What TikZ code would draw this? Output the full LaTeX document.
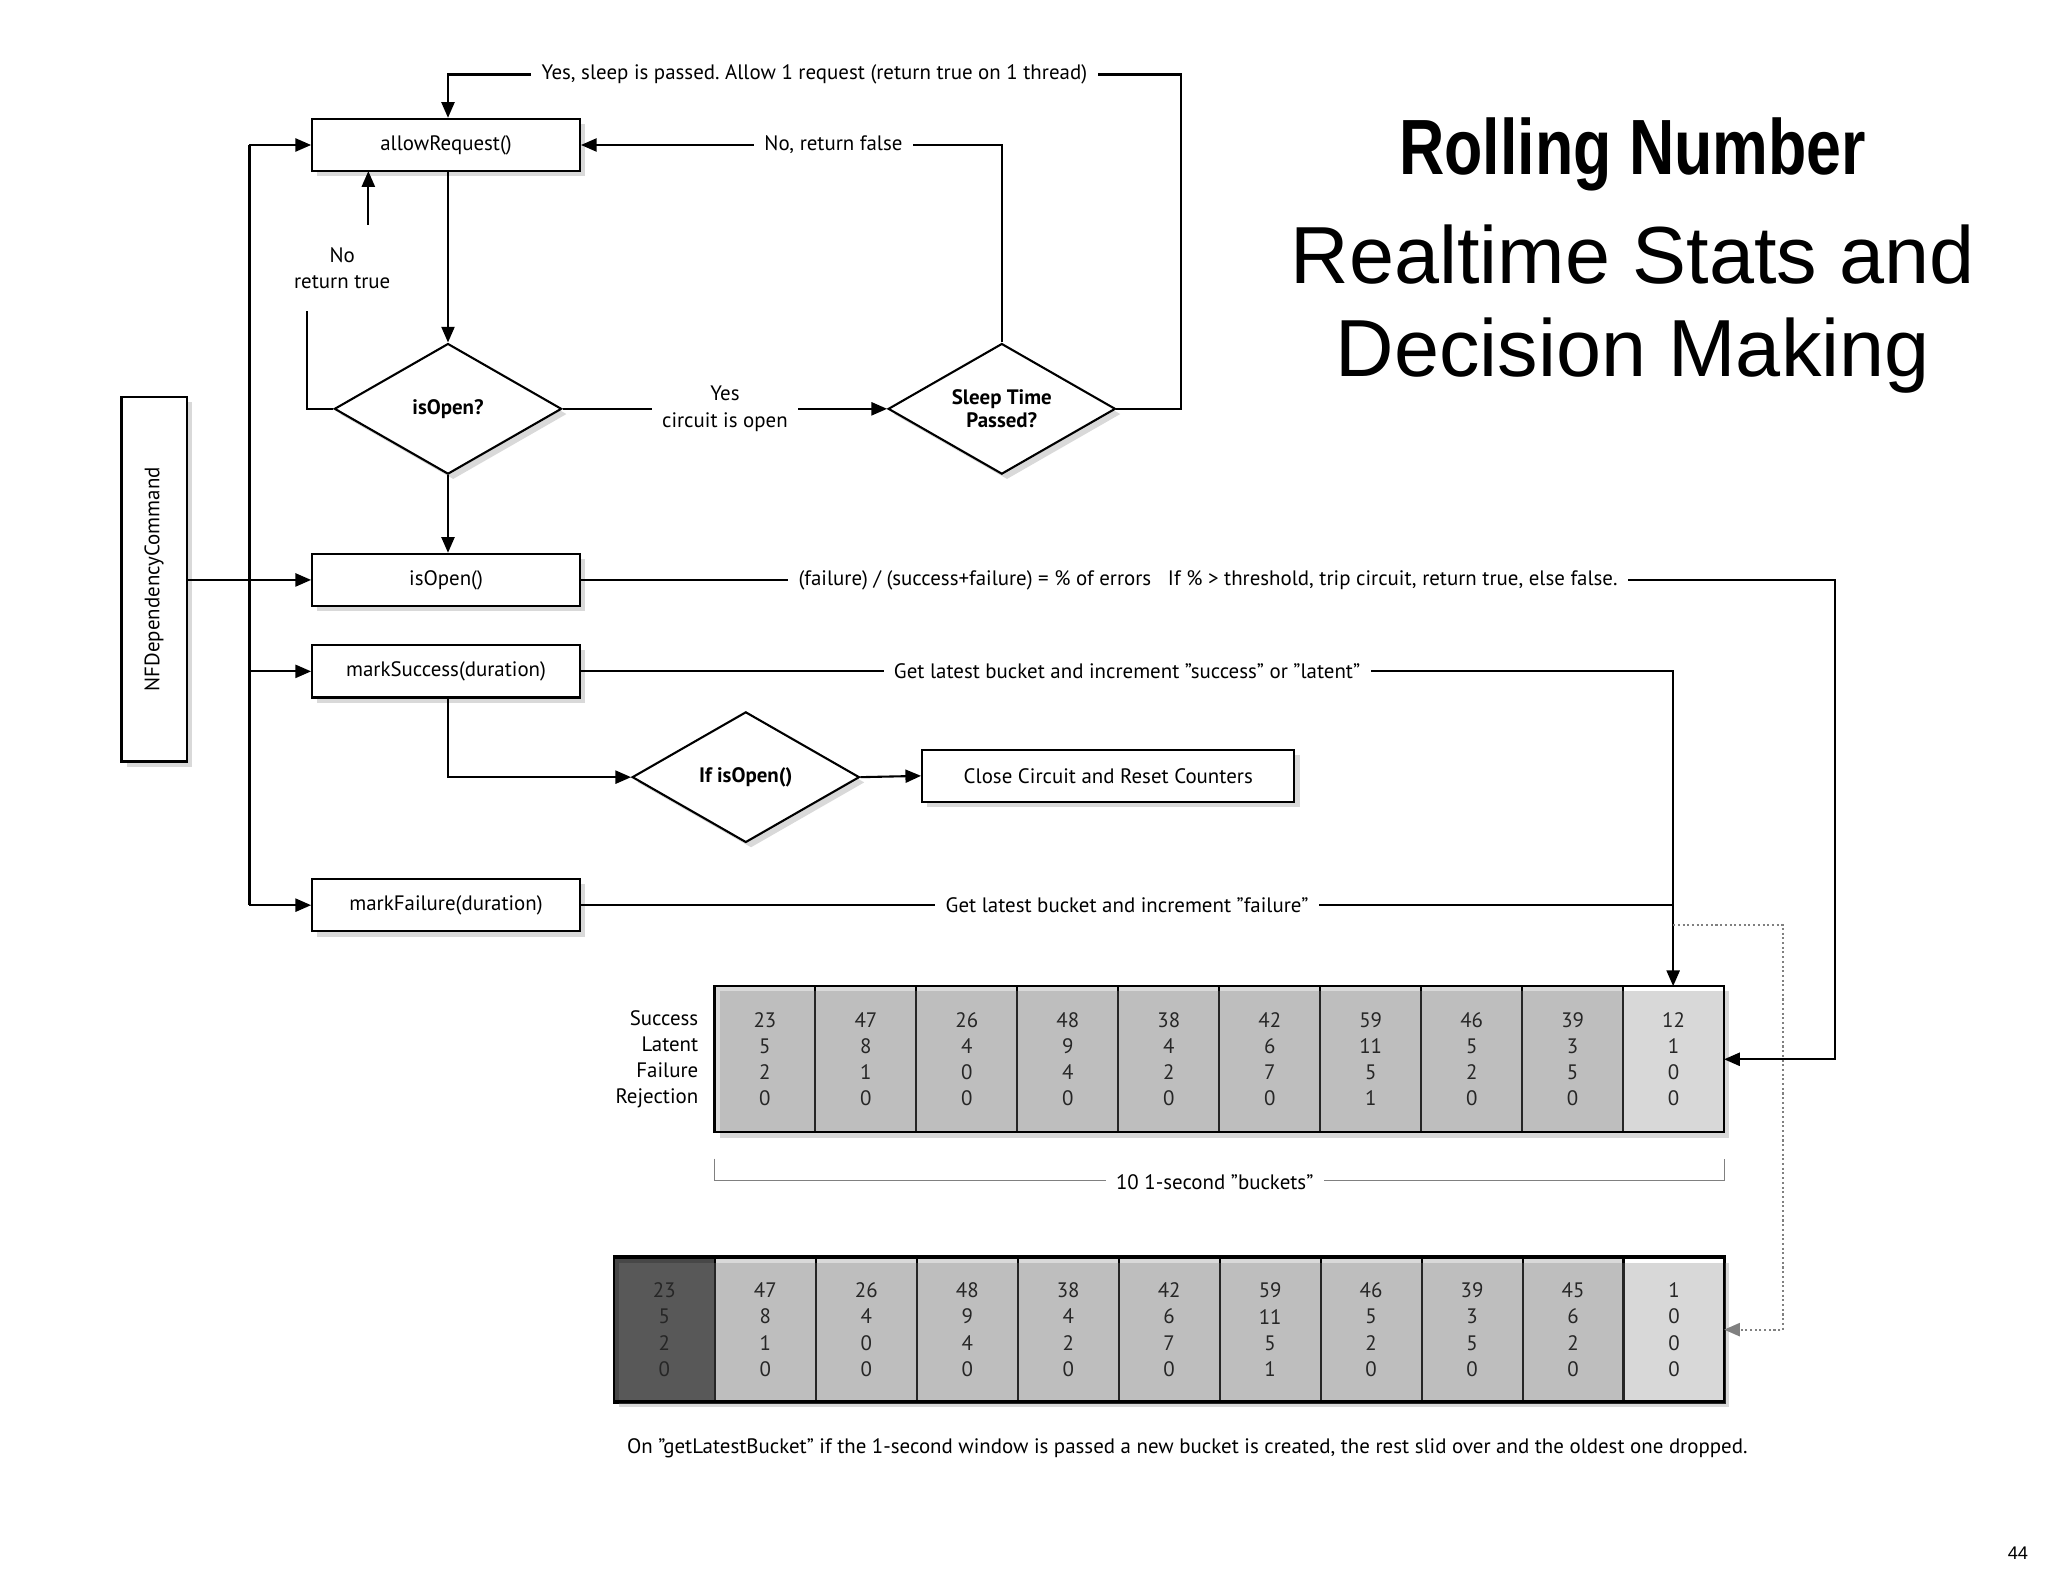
\documentclass[tikz,border=0pt]{standalone}
\usepackage{fontspec}
\setmainfont{PT Sans}
\newfontfamily\titlefont{Liberation Sans}
\usetikzlibrary{shapes.geometric,shadows,arrows.meta}
\begin{document}
\begin{tikzpicture}[x=0.5pt,y=-0.5pt,
  every node/.style={font=\fontsize{8}{10}\selectfont, inner sep=1pt},
  box/.style={draw, thick, fill=white, drop shadow={shadow xshift=2pt,shadow yshift=-2pt,opacity=0.3}, minimum height=20pt, inner sep=0pt},
  dia/.style={draw, thick, diamond, fill=white, aspect=1.74, minimum width=87pt, minimum height=50pt, inner sep=0pt, drop shadow={shadow xshift=2pt,shadow yshift=-2pt,opacity=0.3}, font=\fontsize{8}{9}\selectfont\bfseries, align=center},
  ln/.style={thick},
  ar/.style={thick,-{Triangle[length=6pt,width=5pt]}},
  lbl/.style={fill=white, inner sep=4pt, align=center},
  cell/.style={draw, thick, minimum width=38.65pt, minimum height=56pt, inner sep=0pt, align=center, font=\fontsize{8}{10}\selectfont},
]
\useasboundingbox (0,0) rectangle (1568,1207);
% boxes
\node[box, minimum width=102.5pt] (allow) at (341.5,111) {allowRequest()};
\node[box, minimum width=102.5pt] (isopenb) at (341.5,444) {isOpen()};
\node[box, minimum width=102.5pt] (succ) at (341.5,514) {markSuccess(duration)};
\node[box, minimum width=102.5pt] (fail) at (341.5,693) {markFailure(duration)};
\node[box, minimum width=142.5pt] (close) at (848.5,594) {Close Circuit and Reset Counters};
\node[box, minimum width=25pt, minimum height=139.5pt] (nf) at (118,443.5) {};
\node[rotate=90] at (nf.center) {NFDependencyCommand};
\node[dia] (isopen) at (343,313) {isOpen?};
\node[dia] (sleep) at (767,313) {Sleep Time\\Passed?};
\node[dia] (ifopen) at (571,595) {If isOpen()};
% buckets row 1
\begin{scope}
\foreach \i/\a/\b/\c/\d in {0/23/5/2/0,1/47/8/1/0,2/26/4/0/0,3/48/9/4/0,4/38/4/2/0,5/42/6/7/0,6/59/11/5/1,7/46/5/2/0,8/39/3/5/0}{
  \node[cell, fill=black!15] (r1c\i) at ({547+38.65+77.3*\i},811) {\a\\\b\\\c\\\d};
}
\node[cell, fill=white] (r1c9) at ({547+38.65+77.3*9},811) {12\\1\\0\\0};
\draw[thick, drop shadow={shadow xshift=2pt,shadow yshift=-2pt,opacity=0.3}] (547,755) rectangle (1320,867);
\end{scope}
\node[anchor=east, align=right, font=\fontsize{8}{10}\selectfont] (rowlbl) at (537,811) {Success\\Latent\\Failure\\Rejection};
% bracket
\draw[gray] (547,887) -- (547,904) -- (1320,904) -- (1320,887);
\node[lbl] (brk) at (930,905) {10 1-second "buckets"};
% row 2
\node[cell, fill=black!72] (r2c0) at ({470+38.65},1018) {23\\5\\2\\0};
\foreach \i/\a/\b/\c/\d in {1/47/8/1/0,2/26/4/0/0,3/48/9/4/0,4/38/4/2/0,5/42/6/7/0,6/59/11/5/1,7/46/5/2/0,8/39/3/5/0,9/45/6/2/0}{
  \node[cell, fill=black!15] (r2c\i) at ({470+38.65+77.3*\i},1018) {\a\\\b\\\c\\\d};
}
\node[cell, fill=white] (r2c10) at ({470+38.65+77.3*10},1018) {1\\0\\0\\0};
\draw[thick, drop shadow={shadow xshift=2pt,shadow yshift=-2pt,opacity=0.3}] (470,963) rectangle (1320,1073);
\node (cap) at (909,1109) {On "getLatestBucket" if the 1-second window is passed a new bucket is created, the rest slid over and the oldest one dropped.};
% title
\node[font=\titlefont\fontsize{30}{34}\selectfont\bfseries] (t1) at (1250,118) {\scalebox{0.8}[1]{Rolling Number}};
\node[font=\titlefont\fontsize{31}{34}\selectfont] (t2) at (1250,195) {Realtime Stats and};
\node[font=\titlefont\fontsize{31}{34}\selectfont] (t3) at (1250,272) {Decision Making};
\node[font=\titlefont\fontsize{7}{8}\selectfont] (pg) at (1545,1189) {44};
% connectors
\coordinate (lt) at (191,111);
\draw[ln] (191,111) -- (191,693);
\draw[ar] (191,111) -- (allow.west);
\draw[ar] (191,514) -- (succ.west);
\draw[ar] (191,693) -- (fail.west);
\draw[ar] (nf.east |- isopenb) -- (isopenb.west);
\draw[ar] (allow.south -| isopen.north) -- (isopen.north);
\draw[ar] (isopen.south) -- (isopen.south |- isopenb.north);
\draw[ar] (isopen.east) -- node[lbl]{Yes\\circuit is open} (sleep.west);
\draw[ln] (isopen.west) -- (235,313) -- (235,238);
\draw[ar] (282,172) -- (282,131);
\node[align=center] (noret) at (262,205) {No\\return true};
\draw[ar] (sleep.east) -- (904,313) -- (904,57) -- node[lbl, pos=0.5]{Yes, sleep is passed.\ Allow 1 request (return true on 1 thread)} (343,57) -- (allow.north -| 343,0);
\draw[ar] (sleep.north) -- (767,111) -- node[lbl, pos=0.4]{No, return false} (allow.east);
\draw[ar] (succ.south -| 343,0) -- (343,595) -- (ifopen.west);
\draw[ar] (ifopen.east) -- (close.west);
\draw[ar] (isopenb.east) -- node[lbl, pos=0.5]{(failure) / (success+failure) = \% of errors \ \ If \% > threshold, trip circuit, return true, else false.} (1405,444) -- (1405,811) -- (1320,811);
\draw[ar] (succ.east) -- node[lbl, pos=0.5]{Get latest bucket and increment "success" or "latent"} (1281,514) -- (1281,755);
\draw[ln] (fail.east) -- node[lbl, pos=0.5]{Get latest bucket and increment "failure"} (1281,693);
\draw[thick, densely dotted, gray, -{Triangle[length=6pt,width=5pt]}] (1281,708) -- (1365,708) -- (1365,1018) -- (1320,1018);
\end{tikzpicture}
\end{document}
